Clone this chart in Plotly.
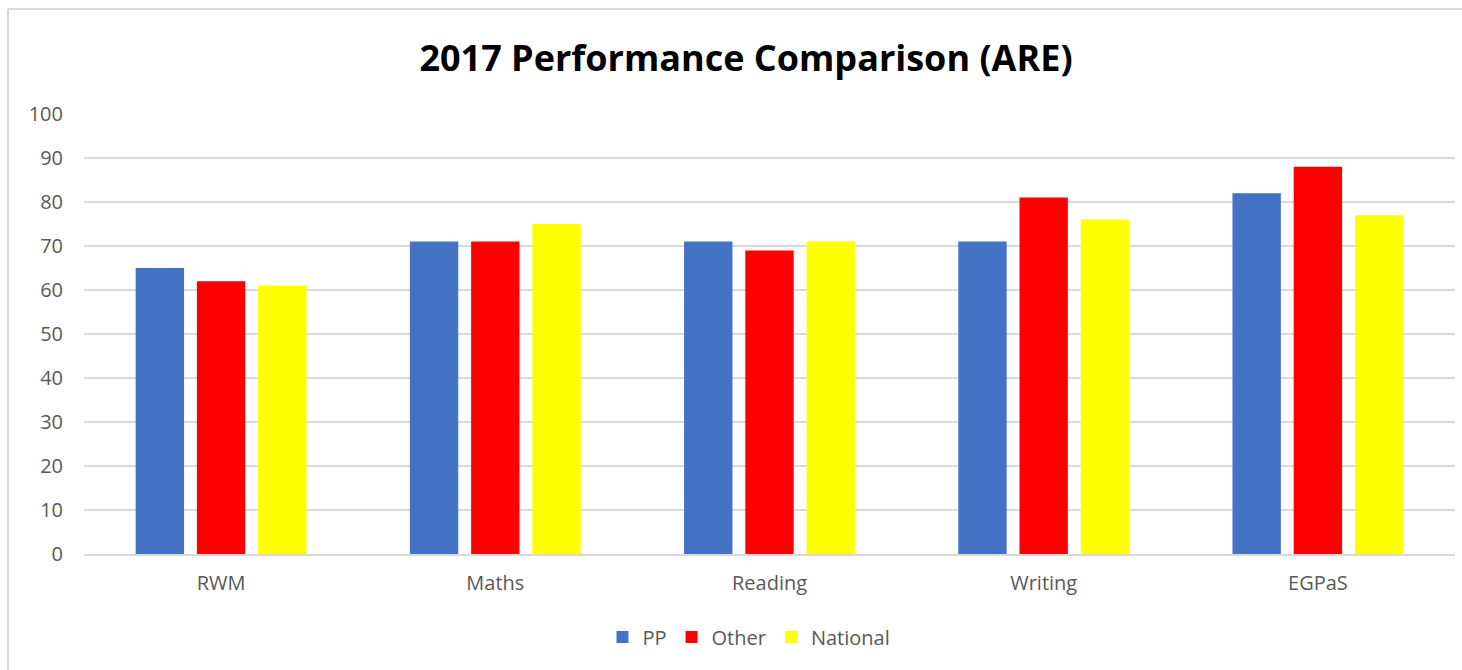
import plotly.graph_objects as go

categories = ["RWM", "Maths", "Reading", "Writing", "EGPaS"]
pp = [65, 71, 71, 71, 82]
other = [62, 71, 69, 81, 88]
national = [61, 75, 71, 76, 77]
series_names = ["PP", "Other", "National"]
colors = ["#4472C4", "#FF0000", "#FFFF00"]

fig = go.Figure()
for name, vals, c in zip(series_names, [pp, other, national], colors):
    fig.add_trace(go.Bar(x=categories, y=vals, name=name, marker_color=c,
                         marker_line_width=0))

W, H = 1462, 670
L, R, T, B = 84, 7, 114, 116
pw, ph = W - L - R, H - T - B

def px_x(p):
    return (p - L) / pw

def px_y(p):
    return (H - B - p) / ph

border = dict(color="#d9d9d9", width=2)

fig.update_layout(
    width=W, height=H,
    margin=dict(l=L, r=R, t=T, b=B),
    paper_bgcolor="white", plot_bgcolor="white",
    barmode="group", bargap=0.33, bargroupgap=0.21,
    font=dict(family="Open Sans, Calibri, sans-serif", color="#595959"),
    title=dict(text="<b>2017 Performance Comparison (ARE)</b>",
               x=746 / W, xanchor="center", y=1 - 58 / H,
               yanchor="middle",
               font=dict(size=36, color="black", family="Open Sans, sans-serif")),
    xaxis=dict(showgrid=False, showline=True, linecolor="#d9d9d9", linewidth=2,
               ticks="", ticklabelstandoff=10, tickfont=dict(size=20, color="#595959")),
    yaxis=dict(range=[0, 100], dtick=10, showgrid=True, gridcolor="#d9d9d9",
               gridwidth=1.5, zeroline=False, ticks="", ticklabelstandoff=20,
               tickfont=dict(size=20, color="#595959")),
    legend=dict(orientation="h", x=749 / W, xanchor="center",
                xref="container", y=1 - 637 / H, yref="container",
                yanchor="middle",
                font=dict(size=20, color="#595959"), itemwidth=30),
    shapes=[
        dict(type="line", xref="paper", yref="paper",
             x0=px_x(8), x1=px_x(8), y0=px_y(670), y1=px_y(9),
             line=border, layer="below"),
        dict(type="line", xref="paper", yref="paper",
             x0=px_x(8), x1=px_x(1462), y0=px_y(9), y1=px_y(9),
             line=border, layer="below"),
    ],
)

fig.write_html(
    "out.html",
    config={"displayModeBar": False},
    post_script="document.body.style.margin='0';document.body.style.overflow='hidden';",
)
